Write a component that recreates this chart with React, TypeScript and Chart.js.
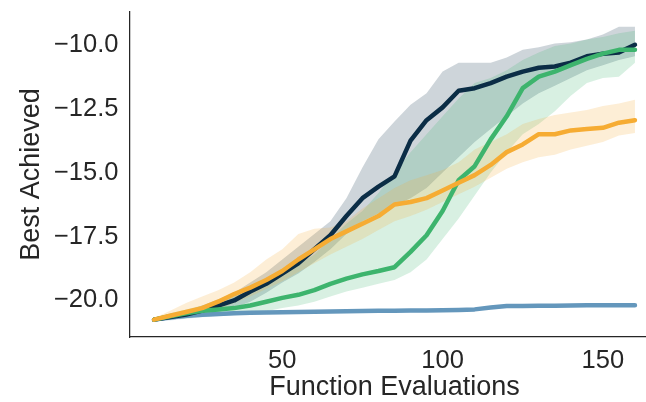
import { useEffect, useRef } from "react";
import { Chart, registerables } from "chart.js";

Chart.register(...registerables);

const evaluations = [10, 15, 20, 25, 30, 35, 40, 45, 50, 55, 60, 65, 70, 75, 80, 85, 90, 95, 100, 105, 110, 115, 120, 125, 130, 135, 140, 145, 150, 155, 160];

const navyMean = [-20.75, -20.65, -20.55, -20.4, -20.2, -20.0, -19.65, -19.35, -18.95, -18.55, -18.0, -17.45, -16.7, -16.0, -15.55, -15.15, -13.75, -12.95, -12.45, -11.8, -11.7, -11.5, -11.25, -11.05, -10.9, -10.85, -10.7, -10.45, -10.35, -10.3, -10.0];
const navyUpper = [-20.7, -20.55, -20.4, -20.2, -19.95, -19.7, -19.3, -18.9, -18.4, -17.9, -17.4, -16.9, -16.0, -14.8, -13.7, -13.0, -12.35, -11.9, -11.05, -10.7, -10.7, -10.7, -10.5, -10.2, -10.1, -9.95, -9.9, -9.8, -9.6, -9.3, -9.3];
const navyLower = [-20.8, -20.75, -20.7, -20.6, -20.45, -20.3, -20.05, -19.7, -19.3, -18.95, -18.5, -18.0, -17.4, -16.9, -16.6, -16.3, -16.0, -15.6, -15.0, -14.4, -13.8, -13.3, -12.8, -12.3, -11.9, -11.6, -11.3, -11.0, -10.8, -10.6, -10.45];

const greenMean = [-20.75, -20.62, -20.5, -20.4, -20.35, -20.3, -20.2, -20.05, -19.9, -19.78, -19.6, -19.35, -19.15, -18.98, -18.85, -18.7, -18.1, -17.45, -16.5, -15.3, -14.75, -13.7, -12.8, -11.7, -11.25, -11.05, -10.8, -10.55, -10.35, -10.2, -10.2];
const greenUpper = [-20.7, -20.5, -20.35, -20.2, -20.05, -19.85, -19.6, -19.3, -18.95, -18.6, -18.2, -17.6, -17.0, -16.5, -15.8, -15.0, -14.2, -13.5, -12.8, -12.1, -11.5, -11.3, -11.0, -10.6, -10.3, -10.05, -9.95, -9.8, -9.7, -9.55, -9.45];
const greenLower = [-20.8, -20.75, -20.7, -20.65, -20.6, -20.55, -20.5, -20.42, -20.3, -20.2, -20.05, -19.85, -19.65, -19.5, -19.35, -19.2, -18.9, -18.4, -17.6, -16.8, -15.9, -15.0, -14.2, -13.5, -13.1, -12.6, -12.0, -11.5, -11.3, -11.25, -10.7];

const orangeMean = [-20.75, -20.6, -20.45, -20.3, -20.05, -19.75, -19.5, -19.2, -18.85, -18.4, -18.0, -17.6, -17.3, -17.0, -16.7, -16.25, -16.15, -16.0, -15.7, -15.4, -15.1, -14.7, -14.2, -13.9, -13.5, -13.5, -13.35, -13.3, -13.25, -13.05, -12.95];
const orangeUpper = [-20.7, -20.4, -20.1, -19.85, -19.6, -19.3, -18.9, -18.4, -18.0, -17.4, -17.2, -17.15, -16.9, -16.4, -16.0, -15.6, -15.3, -15.1, -14.9, -14.6, -14.1, -13.8, -13.5, -13.1, -12.9, -12.75, -12.65, -12.55, -12.4, -12.3, -12.15];
const orangeLower = [-20.8, -20.7, -20.6, -20.5, -20.35, -20.1, -19.85, -19.55, -19.25, -18.9, -18.55, -18.2, -17.9, -17.6, -17.25, -16.9, -16.7, -16.45, -16.15, -15.85, -15.55, -15.2, -14.85, -14.6, -14.4, -14.3, -14.1, -13.95, -13.8, -13.55, -13.45];

const blueMean = [-20.75, -20.67, -20.6, -20.56, -20.53, -20.5, -20.48, -20.47, -20.46, -20.45, -20.44, -20.43, -20.42, -20.41, -20.4, -20.4, -20.39, -20.39, -20.38, -20.37, -20.35, -20.28, -20.22, -20.22, -20.21, -20.21, -20.2, -20.19, -20.19, -20.19, -20.19];
const blueUpper = [-20.72, -20.6, -20.52, -20.48, -20.46, -20.44, -20.43, -20.42, -20.41, -20.4, -20.39, -20.38, -20.37, -20.37, -20.36, -20.36, -20.35, -20.35, -20.34, -20.33, -20.31, -20.24, -20.19, -20.18, -20.18, -20.17, -20.17, -20.16, -20.16, -20.16, -20.16];
const blueLower = [-20.8, -20.78, -20.72, -20.66, -20.62, -20.58, -20.55, -20.53, -20.52, -20.5, -20.49, -20.48, -20.47, -20.46, -20.45, -20.44, -20.43, -20.43, -20.42, -20.41, -20.39, -20.32, -20.26, -20.25, -20.24, -20.24, -20.23, -20.22, -20.22, -20.22, -20.22];

const xTickValues = [50, 100, 150];
const yTickValues = [-20, -17.5, -15, -12.5, -10];
const xAxisTitle = "Function Evaluations";
const yAxisTitle = "Best Achieved";

const NAVY = "#0b2d46";
const GREEN = "#3db46d";
const ORANGE = "#f6ac33";
const BLUE = "#6497bc";

function rgba(hex: string, a: number) {
  const n = parseInt(hex.slice(1), 16);
  return `rgba(${(n >> 16) & 255},${(n >> 8) & 255},${n & 255},${a})`;
}

const FONT = "'Liberation Sans', Arial, Helvetica, sans-serif";
const TEXT = "#262626";

export default function App() {
  const ref = useRef<HTMLCanvasElement>(null);

  useEffect(() => {
    document.body.style.margin = "0";
    const canvas = ref.current;
    if (!canvas) return;
    const pts = (arr: number[]) => evaluations.map((x, i) => ({ x, y: arr[i] }));

    const lineDs = (data: number[], color: string, order: number) => ({
      data: pts(data),
      borderColor: color,
      backgroundColor: color,
      borderWidth: 4.5,
      borderJoinStyle: "round" as const,
      borderCapStyle: "round" as const,
      pointRadius: 0,
      fill: false,
      order,
    });
    const bandDs = (data: number[], color: string, target: number | false, order: number) => ({
      data: pts(data),
      borderColor: "rgba(0,0,0,0)",
      backgroundColor: rgba(color, 0.2),
      borderWidth: 0,
      pointRadius: 0,
      fill: target === false ? false : { target, above: rgba(color, 0.2), below: rgba(color, 0.2) },
      order,
    });

    const datasets: any[] = [
      lineDs(orangeMean, ORANGE, 1), // 0
      lineDs(greenMean, GREEN, 2), // 1
      lineDs(navyMean, NAVY, 3), // 2
      lineDs(blueMean, BLUE, 4), // 3
      bandDs(blueUpper, BLUE, 5, 20), // 4
      bandDs(blueLower, BLUE, false, 21), // 5
      bandDs(navyUpper, NAVY, 7, 18), // 6
      bandDs(navyLower, NAVY, false, 19), // 7
      bandDs(greenUpper, GREEN, 9, 16), // 8
      bandDs(greenLower, GREEN, false, 17), // 9
      bandDs(orangeUpper, ORANGE, 11, 14), // 10
      bandDs(orangeLower, ORANGE, false, 15), // 11
    ];

    const chart = new Chart(canvas, {
      type: "line",
      data: { datasets },
      options: {
        animation: false,
        responsive: false,
        devicePixelRatio: 1,
        layout: { padding: { top: 12, right: 1, left: 0, bottom: 0 } },
        elements: { line: { tension: 0 } },
        plugins: {
          legend: { display: false },
          tooltip: { enabled: false },
        },
        scales: {
          x: {
            type: "linear",
            min: 2.5,
            max: 167.5,
            afterBuildTicks: (s: any) => {
              s.ticks = xTickValues.map((v) => ({ value: v }));
            },
            afterFit: (s: any) => {
              s.height = 65;
              s.paddingLeft = 0;
              s.paddingRight = 0;
            },
            grid: { display: false, drawTicks: false },
            border: { display: true, color: TEXT, width: 1.25 },
            ticks: {
              autoSkip: false,
              maxRotation: 0,
              padding: 9,
              color: TEXT,
              font: { family: FONT, size: 25.5 },
              callback: (v: any) => String(v),
            },
            title: {
              display: true,
              text: xAxisTitle,
              color: TEXT,
              font: { family: FONT, size: 27, lineHeight: 1 },
              padding: { top: 0, bottom: 1 },
            },
          },
          y: {
            type: "linear",
            min: -21.43,
            max: -8.72,
            afterBuildTicks: (s: any) => {
              s.ticks = yTickValues.map((v) => ({ value: v }));
            },
            afterFit: (s: any) => {
              s.width = 130;
              s.paddingTop = 0;
              s.paddingBottom = 0;
            },
            grid: { display: false, drawTicks: false },
            border: { display: true, color: TEXT, width: 1.25 },
            ticks: {
              autoSkip: false,
              padding: 11.5,
              color: TEXT,
              font: { family: FONT, size: 25.5 },
              callback: (v: any) => (v < 0 ? "\u2212" : "") + Math.abs(Number(v)).toFixed(1),
            },
            title: {
              display: true,
              text: yAxisTitle,
              color: TEXT,
              font: { family: FONT, size: 27, lineHeight: 1 },
              padding: { top: 18, bottom: 0 },
            },
          },
        },
      },
    });
    return () => chart.destroy();
  }, []);

  return (
    <div style={{ position: "absolute", left: 0, top: 0, width: 646, height: 402, overflow: "hidden", background: "#fff" }}>
      <canvas ref={ref} width={660} height={402} style={{ width: 660, height: 402, display: "block" }} />
    </div>
  );
}
